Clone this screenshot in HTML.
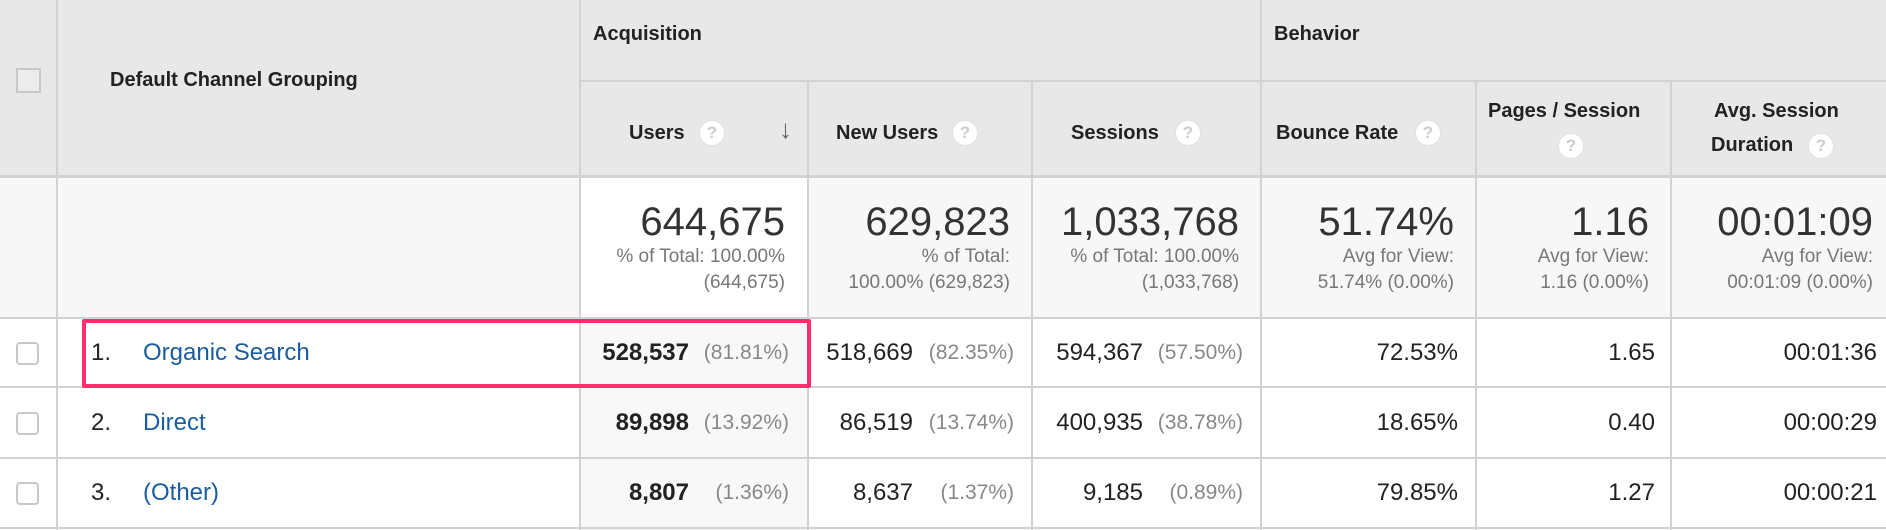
<!DOCTYPE html>
<html><head><meta charset="utf-8"><style>
body{margin:0;width:1886px;height:530px;overflow:hidden;background:#fff;font-family:"Liberation Sans",Arial,sans-serif;position:relative}
div{position:absolute;box-sizing:border-box}
.t{white-space:nowrap;line-height:1}
.hl{height:2px;background:#d2d2d2}
.vl{width:2px;background:#d2d2d2}
.b{font-weight:bold;color:#222;font-size:20px}
.q{width:26px;height:26px;border-radius:50%;background:#fff;border:1px solid #e2e2e2;color:#ccc;font-size:17px;text-align:center;line-height:24px;font-weight:bold}
.big{font-size:40px;color:#333}
.sub{font-size:19px;color:#777;text-align:right;line-height:26px}
.v{font-size:24px;color:#222}
.p{font-size:21px;color:#888}
.cb{width:23px;height:23px;border:2px solid #c8c8c8;border-radius:4px;background:#fff}
.lk{font-size:24px;color:#1a5c9e}
</style></head><body>
<div style="left:0;top:0;width:1886px;height:177px;background:#e8e8e8"></div>
<div style="left:0;top:177px;width:580px;height:141px;background:#f7f7f7"></div>
<div style="left:808px;top:177px;width:1078px;height:141px;background:#f7f7f7"></div>
<div style="left:580px;top:318px;width:228px;height:212px;background:#f8f8f8"></div>
<div class="hl" style="left:579px;top:80px;width:1307px"></div>
<div class="hl" style="left:0;top:175px;width:1886px;height:3px"></div>
<div class="hl" style="left:0;top:317px;width:1886px"></div>
<div class="hl" style="left:0;top:386px;width:1886px"></div>
<div class="hl" style="left:0;top:457px;width:1886px"></div>
<div class="hl" style="left:0;top:527px;width:1886px"></div>
<div class="vl" style="left:56px;top:0;height:530px"></div>
<div class="vl" style="left:579px;top:0;height:530px"></div>
<div class="vl" style="left:807px;top:81px;height:449px"></div>
<div class="vl" style="left:1031px;top:81px;height:449px"></div>
<div class="vl" style="left:1260px;top:0;height:530px"></div>
<div class="vl" style="left:1475px;top:81px;height:449px"></div>
<div class="vl" style="left:1670px;top:81px;height:449px"></div>
<div style="left:16px;top:68px;width:25px;height:25px;border:2px solid #c8c8c8;background:#ececec"></div>
<div class="t b" style="left:110px;top:70px">Default Channel Grouping</div>
<div class="t b" style="left:593px;top:24px">Acquisition</div>
<div class="t b" style="left:1274px;top:24px">Behavior</div>
<div class="t b" style="left:629px;top:123px">Users</div>
<div class="q" style="left:699px;top:120px">?</div>
<div class="t" style="left:779px;top:116px;font-size:26px;color:#666">&#8595;</div>
<div class="t b" style="left:836px;top:123px">New Users</div>
<div class="q" style="left:952px;top:120px">?</div>
<div class="t b" style="left:1071px;top:123px">Sessions</div>
<div class="q" style="left:1175px;top:120px">?</div>
<div class="t b" style="left:1276px;top:123px">Bounce Rate</div>
<div class="q" style="left:1415px;top:120px">?</div>
<div class="t b" style="left:1488px;top:101px">Pages / Session</div>
<div class="q" style="left:1558px;top:133px">?</div>
<div class="t b" style="left:1714px;top:101px">Avg. Session</div>
<div class="t b" style="left:1711px;top:135px">Duration</div>
<div class="q" style="left:1808px;top:133px">?</div>
<div class="t big" style="right:1101px;top:202px">644,675</div>
<div class="sub" style="right:1101px;top:244px">% of Total: 100.00%<br>(644,675)</div>
<div class="t big" style="right:876px;top:202px">629,823</div>
<div class="sub" style="right:876px;top:244px">% of Total:<br>100.00% (629,823)</div>
<div class="t big" style="right:647px;top:202px">1,033,768</div>
<div class="sub" style="right:647px;top:244px">% of Total: 100.00%<br>(1,033,768)</div>
<div class="t big" style="right:432px;top:202px">51.74%</div>
<div class="sub" style="right:432px;top:244px">Avg for View:<br>51.74% (0.00%)</div>
<div class="t big" style="right:237px;top:202px">1.16</div>
<div class="sub" style="right:237px;top:244px">Avg for View:<br>1.16 (0.00%)</div>
<div class="t big" style="right:13px;top:202px">00:01:09</div>
<div class="sub" style="right:13px;top:244px">Avg for View:<br>00:01:09 (0.00%)</div>
<div class="cb" style="left:16px;top:342px"></div>
<div class="cb" style="left:16px;top:412px"></div>
<div class="cb" style="left:16px;top:482px"></div>
<div class="t v" style="left:91px;top:341px">1.</div>
<div class="t v" style="left:91px;top:411px">2.</div>
<div class="t v" style="left:91px;top:481px">3.</div>
<div class="t lk" style="left:143px;top:341px">Organic Search</div>
<div class="t lk" style="left:143px;top:411px">Direct</div>
<div class="t lk" style="left:143px;top:481px">(Other)</div>
<div class="t v" style="right:1197px;top:341px;font-weight:bold">528,537</div>
<div class="t p" style="right:1097px;top:342px">(81.81%)</div>
<div class="t v" style="right:1197px;top:411px;font-weight:bold">89,898</div>
<div class="t p" style="right:1097px;top:412px">(13.92%)</div>
<div class="t v" style="right:1197px;top:481px;font-weight:bold">8,807</div>
<div class="t p" style="right:1097px;top:482px">(1.36%)</div>
<div class="t v" style="right:973px;top:341px">518,669</div>
<div class="t p" style="right:872px;top:342px">(82.35%)</div>
<div class="t v" style="right:973px;top:411px">86,519</div>
<div class="t p" style="right:872px;top:412px">(13.74%)</div>
<div class="t v" style="right:973px;top:481px">8,637</div>
<div class="t p" style="right:872px;top:482px">(1.37%)</div>
<div class="t v" style="right:743px;top:341px">594,367</div>
<div class="t p" style="right:643px;top:342px">(57.50%)</div>
<div class="t v" style="right:743px;top:411px">400,935</div>
<div class="t p" style="right:643px;top:412px">(38.78%)</div>
<div class="t v" style="right:743px;top:481px">9,185</div>
<div class="t p" style="right:643px;top:482px">(0.89%)</div>
<div class="t v" style="right:428px;top:341px">72.53%</div>
<div class="t v" style="right:428px;top:411px">18.65%</div>
<div class="t v" style="right:428px;top:481px">79.85%</div>
<div class="t v" style="right:231px;top:341px">1.65</div>
<div class="t v" style="right:231px;top:411px">0.40</div>
<div class="t v" style="right:231px;top:481px">1.27</div>
<div class="t v" style="right:9px;top:341px">00:01:36</div>
<div class="t v" style="right:9px;top:411px">00:00:29</div>
<div class="t v" style="right:9px;top:481px">00:00:21</div>
<div style="left:82px;top:319px;width:729px;height:69px;border:4px solid #ff2f6d;border-radius:2px"></div>
</body></html>
